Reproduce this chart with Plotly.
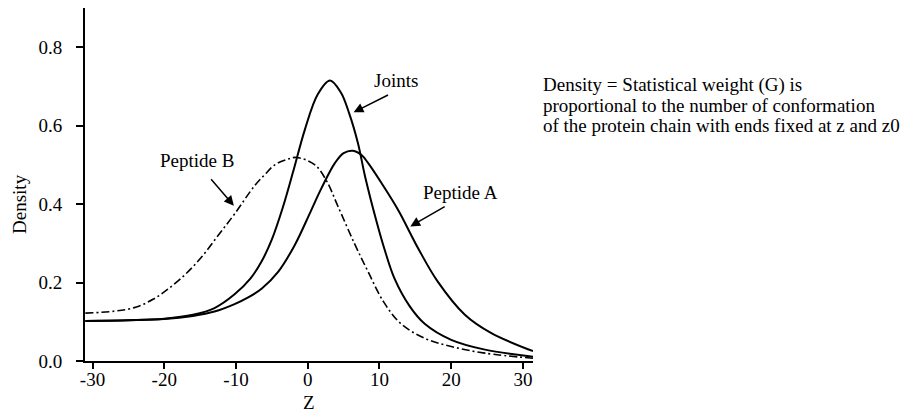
import plotly.graph_objects as go

# ---- data ----
z_joints = [-31, -25, -20, -16, -13, -10.2, -8, -6.4, -5, -3.5, -2, -0.4, 1.4, 3.1,
            4.6, 5.8, 7.0, 8.0, 9.6, 10.7, 12.1, 14.2, 16.3, 20, 24.7, 31.4]
d_joints = [0.102, 0.104, 0.108, 0.118, 0.135, 0.17, 0.21, 0.255, 0.31, 0.39, 0.485, 0.59, 0.68, 0.715,
            0.685, 0.63, 0.555, 0.47, 0.355, 0.285, 0.21, 0.14, 0.095, 0.054, 0.029, 0.011]

z_pepA = [-31, -25, -20, -16, -13, -10.2, -8.3, -6.4, -4.1, -1.8, 0.4, 1.9, 3.8, 5.0, 6.3,
          7.5, 8.4, 10.3, 12.6, 15.4, 18.1, 21.9, 25.6, 31.4]
d_pepA = [0.102, 0.104, 0.107, 0.115, 0.126, 0.145, 0.162, 0.185, 0.228, 0.296, 0.381, 0.44, 0.505, 0.53, 0.536,
          0.525, 0.505, 0.453, 0.385, 0.287, 0.203, 0.118, 0.071, 0.025]

z_pepB = [-31, -27, -24, -21.5, -19.5, -17, -14.8, -12.5, -10.2, -7.4, -6, -4.6, -3, -1.6, 1.0, 2.6, 4.2,
          6.5, 8.4, 10.6, 13.0, 16.3, 20, 24.7, 31.4]
d_pepB = [0.122, 0.127, 0.137, 0.158, 0.183, 0.222, 0.265, 0.32, 0.375, 0.447, 0.475, 0.5, 0.513, 0.519, 0.5,
          0.46, 0.395, 0.3, 0.228, 0.15, 0.095, 0.058, 0.037, 0.02, 0.007]

x_ticks = [-30, -20, -10, 0, 10, 20, 30]
y_ticks = [0.0, 0.2, 0.4, 0.6, 0.8]

x_title = "Z"
y_title = "Density"
note_lines = ["Density = Statistical weight (G) is",
              "proportional to the number of conformation",
              "of the protein chain with ends fixed at z and z0"]

FONT = "Liberation Serif, Times New Roman, serif"
FS = 19

fig = go.Figure()
fig.add_trace(go.Scatter(x=z_joints, y=d_joints, mode="lines", name="Joints",
                         line=dict(color="black", width=2, shape="spline", smoothing=1.0)))
fig.add_trace(go.Scatter(x=z_pepA, y=d_pepA, mode="lines", name="Peptide A",
                         line=dict(color="black", width=2, shape="spline", smoothing=1.0)))
fig.add_trace(go.Scatter(x=z_pepB, y=d_pepB, mode="lines", name="Peptide B",
                         line=dict(color="black", width=1.6, shape="spline", smoothing=1.0,
                                   dash="8px,3px,2px,3px")))

# curve labels
labels = [("Joints", 12.3, 0.714), ("Peptide B", -15.5, 0.511), ("Peptide A", 21.3, 0.43)]
for txt, lx, ly in labels:
    fig.add_annotation(x=lx, y=ly, xref="x", yref="y", text=txt, showarrow=False,
                       font=dict(family=FONT, size=FS, color="black"),
                       xanchor="center", yanchor="middle")

# arrows: (tip_x, tip_y, tail_x, tail_y)
arrows = [(6.4, 0.634, 11.4, 0.68), (-10.3, 0.396, -13.65, 0.467), (14.3, 0.343, 19.3, 0.396)]
for tx, ty, ax, ay in arrows:
    fig.add_annotation(x=tx, y=ty, ax=ax, ay=ay, xref="x", yref="y", axref="x", ayref="y",
                       text="", showarrow=True, arrowhead=2, arrowsize=1.3, arrowwidth=1.5,
                       arrowcolor="black", standoff=0, startstandoff=0)

# side note
for i, line in enumerate(note_lines):
    fig.add_annotation(x=1.018, y=0.782 - i * 0.058, xref="paper", yref="paper", text=line,
                       showarrow=False, xanchor="left", yanchor="middle",
                       font=dict(family=FONT, size=FS, color="black"))

# axis titles
fig.add_annotation(x=0.5, y=-0.118, xref="paper", yref="paper", text=x_title, showarrow=False,
                   xanchor="center", yanchor="middle", font=dict(family=FONT, size=FS, color="black"))
fig.add_annotation(x=-0.145, y=0.445, xref="paper", yref="paper", text=y_title, showarrow=False,
                   textangle=-90, xanchor="center", yanchor="middle",
                   font=dict(family=FONT, size=FS, color="black"))

fig.update_layout(
    width=909, height=412,
    margin=dict(l=85, r=376, t=8, b=51, autoexpand=False),
    plot_bgcolor="white", paper_bgcolor="white",
    showlegend=False,
    font=dict(family=FONT, size=FS, color="black"),
    xaxis=dict(range=[-31.05, 31.4], tickvals=x_ticks, ticktext=[str(v) for v in x_ticks],
               showline=True, linecolor="black", linewidth=2, ticks="outside", ticklen=6,
               tickwidth=2, tickcolor="black", showgrid=False, zeroline=False,
               automargin=False, ticklabelstandoff=-6, tickfont=dict(family=FONT, size=FS)),
    yaxis=dict(range=[0, 0.9], tickvals=y_ticks, ticktext=[f"{v:.1f}" for v in y_ticks],
               showline=True, linecolor="black", linewidth=2, ticks="outside", ticklen=7,
               tickwidth=2, tickcolor="black", showgrid=False, zeroline=False,
               automargin=False, ticklabelstandoff=10, tickfont=dict(family=FONT, size=FS)),
)

fig.write_html("out.html")
